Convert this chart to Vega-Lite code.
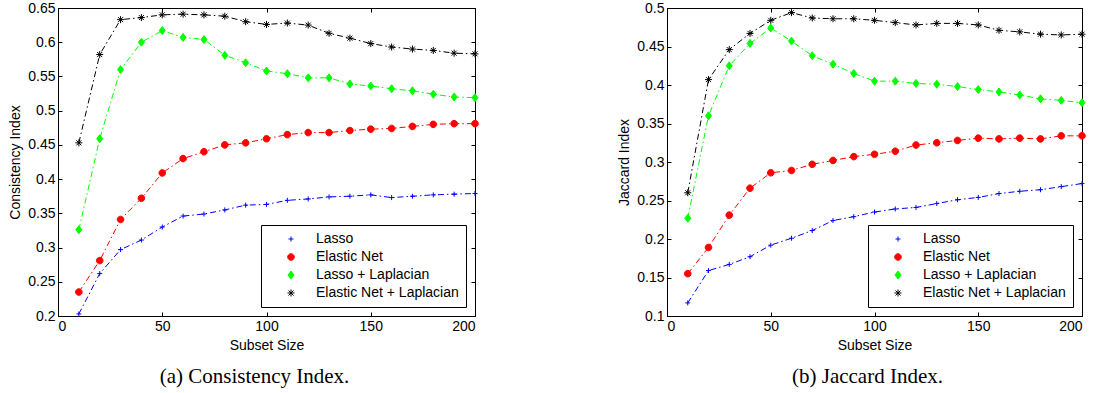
{
  "$schema": "https://vega.github.io/schema/vega-lite/v6.json",
  "background": "white",
  "padding": {"left": 8, "top": 0, "right": 5, "bottom": 5},
  "config": {
    "font": "Liberation Sans",
    "view": {"stroke": "black", "strokeWidth": 1},
    "axis": {"domainColor": "black", "tickColor": "black", "labelColor": "black", "titleColor": "black", "labelFont": "Liberation Sans", "labelFontSize": 14, "titleFont": "Liberation Sans", "titleFontSize": 14, "titleFontWeight": "normal", "grid": false, "tickSize": -4, "labelPadding": 7, "domainWidth": 1, "tickWidth": 1, "titlePadding": 5},
    "legend": {"orient": "bottom-right", "offset": 9, "padding": 7, "strokeColor": "black", "strokeWidth": 1, "fillColor": "white", "labelFont": "Liberation Sans", "labelFontSize": 14, "labelColor": "black", "rowPadding": 4, "symbolSize": 100, "symbolOffset": 16, "labelOffset": 18, "symbolStrokeWidth": 1, "cornerRadius": 0, "title": null},
    "title": {"font": "Liberation Serif", "fontSize": 21, "fontWeight": "normal", "color": "black"}
  },
  "datasets": {
    "consistency": [
      {"size": 10, "series": "Lasso", "value": 0.203}, {"size": 20, "series": "Lasso", "value": 0.262}, {"size": 30, "series": "Lasso", "value": 0.297}, {"size": 40, "series": "Lasso", "value": 0.311}, {"size": 50, "series": "Lasso", "value": 0.330}, {"size": 60, "series": "Lasso", "value": 0.346}, {"size": 70, "series": "Lasso", "value": 0.349}, {"size": 80, "series": "Lasso", "value": 0.355}, {"size": 90, "series": "Lasso", "value": 0.362}, {"size": 100, "series": "Lasso", "value": 0.363}, {"size": 110, "series": "Lasso", "value": 0.369}, {"size": 120, "series": "Lasso", "value": 0.371}, {"size": 130, "series": "Lasso", "value": 0.374}, {"size": 140, "series": "Lasso", "value": 0.375}, {"size": 150, "series": "Lasso", "value": 0.377}, {"size": 160, "series": "Lasso", "value": 0.373}, {"size": 170, "series": "Lasso", "value": 0.375}, {"size": 180, "series": "Lasso", "value": 0.377}, {"size": 190, "series": "Lasso", "value": 0.378}, {"size": 200, "series": "Lasso", "value": 0.379},
      {"size": 10, "series": "Elastic Net", "value": 0.235}, {"size": 20, "series": "Elastic Net", "value": 0.281}, {"size": 30, "series": "Elastic Net", "value": 0.341}, {"size": 40, "series": "Elastic Net", "value": 0.372}, {"size": 50, "series": "Elastic Net", "value": 0.409}, {"size": 60, "series": "Elastic Net", "value": 0.430}, {"size": 70, "series": "Elastic Net", "value": 0.440}, {"size": 80, "series": "Elastic Net", "value": 0.450}, {"size": 90, "series": "Elastic Net", "value": 0.453}, {"size": 100, "series": "Elastic Net", "value": 0.459}, {"size": 110, "series": "Elastic Net", "value": 0.465}, {"size": 120, "series": "Elastic Net", "value": 0.468}, {"size": 130, "series": "Elastic Net", "value": 0.468}, {"size": 140, "series": "Elastic Net", "value": 0.471}, {"size": 150, "series": "Elastic Net", "value": 0.473}, {"size": 160, "series": "Elastic Net", "value": 0.474}, {"size": 170, "series": "Elastic Net", "value": 0.477}, {"size": 180, "series": "Elastic Net", "value": 0.480}, {"size": 190, "series": "Elastic Net", "value": 0.481}, {"size": 200, "series": "Elastic Net", "value": 0.481},
      {"size": 10, "series": "Lasso + Laplacian", "value": 0.326}, {"size": 20, "series": "Lasso + Laplacian", "value": 0.459}, {"size": 30, "series": "Lasso + Laplacian", "value": 0.560}, {"size": 40, "series": "Lasso + Laplacian", "value": 0.600}, {"size": 50, "series": "Lasso + Laplacian", "value": 0.617}, {"size": 60, "series": "Lasso + Laplacian", "value": 0.607}, {"size": 70, "series": "Lasso + Laplacian", "value": 0.604}, {"size": 80, "series": "Lasso + Laplacian", "value": 0.581}, {"size": 90, "series": "Lasso + Laplacian", "value": 0.570}, {"size": 100, "series": "Lasso + Laplacian", "value": 0.558}, {"size": 110, "series": "Lasso + Laplacian", "value": 0.554}, {"size": 120, "series": "Lasso + Laplacian", "value": 0.548}, {"size": 130, "series": "Lasso + Laplacian", "value": 0.548}, {"size": 140, "series": "Lasso + Laplacian", "value": 0.539}, {"size": 150, "series": "Lasso + Laplacian", "value": 0.536}, {"size": 160, "series": "Lasso + Laplacian", "value": 0.532}, {"size": 170, "series": "Lasso + Laplacian", "value": 0.529}, {"size": 180, "series": "Lasso + Laplacian", "value": 0.524}, {"size": 190, "series": "Lasso + Laplacian", "value": 0.520}, {"size": 200, "series": "Lasso + Laplacian", "value": 0.519},
      {"size": 10, "series": "Elastic Net + Laplacian", "value": 0.453}, {"size": 20, "series": "Elastic Net + Laplacian", "value": 0.582}, {"size": 30, "series": "Elastic Net + Laplacian", "value": 0.633}, {"size": 40, "series": "Elastic Net + Laplacian", "value": 0.636}, {"size": 50, "series": "Elastic Net + Laplacian", "value": 0.640}, {"size": 60, "series": "Elastic Net + Laplacian", "value": 0.641}, {"size": 70, "series": "Elastic Net + Laplacian", "value": 0.640}, {"size": 80, "series": "Elastic Net + Laplacian", "value": 0.638}, {"size": 90, "series": "Elastic Net + Laplacian", "value": 0.630}, {"size": 100, "series": "Elastic Net + Laplacian", "value": 0.626}, {"size": 110, "series": "Elastic Net + Laplacian", "value": 0.628}, {"size": 120, "series": "Elastic Net + Laplacian", "value": 0.625}, {"size": 130, "series": "Elastic Net + Laplacian", "value": 0.613}, {"size": 140, "series": "Elastic Net + Laplacian", "value": 0.606}, {"size": 150, "series": "Elastic Net + Laplacian", "value": 0.598}, {"size": 160, "series": "Elastic Net + Laplacian", "value": 0.593}, {"size": 170, "series": "Elastic Net + Laplacian", "value": 0.590}, {"size": 180, "series": "Elastic Net + Laplacian", "value": 0.588}, {"size": 190, "series": "Elastic Net + Laplacian", "value": 0.584}, {"size": 200, "series": "Elastic Net + Laplacian", "value": 0.583}
    ],
    "jaccard": [
      {"size": 10, "series": "Lasso", "value": 0.117}, {"size": 20, "series": "Lasso", "value": 0.159}, {"size": 30, "series": "Lasso", "value": 0.167}, {"size": 40, "series": "Lasso", "value": 0.177}, {"size": 50, "series": "Lasso", "value": 0.192}, {"size": 60, "series": "Lasso", "value": 0.201}, {"size": 70, "series": "Lasso", "value": 0.211}, {"size": 80, "series": "Lasso", "value": 0.224}, {"size": 90, "series": "Lasso", "value": 0.229}, {"size": 100, "series": "Lasso", "value": 0.235}, {"size": 110, "series": "Lasso", "value": 0.239}, {"size": 120, "series": "Lasso", "value": 0.241}, {"size": 130, "series": "Lasso", "value": 0.246}, {"size": 140, "series": "Lasso", "value": 0.251}, {"size": 150, "series": "Lasso", "value": 0.254}, {"size": 160, "series": "Lasso", "value": 0.259}, {"size": 170, "series": "Lasso", "value": 0.262}, {"size": 180, "series": "Lasso", "value": 0.264}, {"size": 190, "series": "Lasso", "value": 0.268}, {"size": 200, "series": "Lasso", "value": 0.272},
      {"size": 10, "series": "Elastic Net", "value": 0.155}, {"size": 20, "series": "Elastic Net", "value": 0.189}, {"size": 30, "series": "Elastic Net", "value": 0.231}, {"size": 40, "series": "Elastic Net", "value": 0.266}, {"size": 50, "series": "Elastic Net", "value": 0.286}, {"size": 60, "series": "Elastic Net", "value": 0.289}, {"size": 70, "series": "Elastic Net", "value": 0.297}, {"size": 80, "series": "Elastic Net", "value": 0.302}, {"size": 90, "series": "Elastic Net", "value": 0.307}, {"size": 100, "series": "Elastic Net", "value": 0.310}, {"size": 110, "series": "Elastic Net", "value": 0.314}, {"size": 120, "series": "Elastic Net", "value": 0.322}, {"size": 130, "series": "Elastic Net", "value": 0.325}, {"size": 140, "series": "Elastic Net", "value": 0.328}, {"size": 150, "series": "Elastic Net", "value": 0.331}, {"size": 160, "series": "Elastic Net", "value": 0.330}, {"size": 170, "series": "Elastic Net", "value": 0.331}, {"size": 180, "series": "Elastic Net", "value": 0.330}, {"size": 190, "series": "Elastic Net", "value": 0.334}, {"size": 200, "series": "Elastic Net", "value": 0.334},
      {"size": 10, "series": "Lasso + Laplacian", "value": 0.227}, {"size": 20, "series": "Lasso + Laplacian", "value": 0.360}, {"size": 30, "series": "Lasso + Laplacian", "value": 0.425}, {"size": 40, "series": "Lasso + Laplacian", "value": 0.454}, {"size": 50, "series": "Lasso + Laplacian", "value": 0.474}, {"size": 60, "series": "Lasso + Laplacian", "value": 0.457}, {"size": 70, "series": "Lasso + Laplacian", "value": 0.438}, {"size": 80, "series": "Lasso + Laplacian", "value": 0.427}, {"size": 90, "series": "Lasso + Laplacian", "value": 0.415}, {"size": 100, "series": "Lasso + Laplacian", "value": 0.405}, {"size": 110, "series": "Lasso + Laplacian", "value": 0.405}, {"size": 120, "series": "Lasso + Laplacian", "value": 0.402}, {"size": 130, "series": "Lasso + Laplacian", "value": 0.401}, {"size": 140, "series": "Lasso + Laplacian", "value": 0.398}, {"size": 150, "series": "Lasso + Laplacian", "value": 0.394}, {"size": 160, "series": "Lasso + Laplacian", "value": 0.391}, {"size": 170, "series": "Lasso + Laplacian", "value": 0.387}, {"size": 180, "series": "Lasso + Laplacian", "value": 0.382}, {"size": 190, "series": "Lasso + Laplacian", "value": 0.380}, {"size": 200, "series": "Lasso + Laplacian", "value": 0.377},
      {"size": 10, "series": "Elastic Net + Laplacian", "value": 0.260}, {"size": 20, "series": "Elastic Net + Laplacian", "value": 0.407}, {"size": 30, "series": "Elastic Net + Laplacian", "value": 0.446}, {"size": 40, "series": "Elastic Net + Laplacian", "value": 0.467}, {"size": 50, "series": "Elastic Net + Laplacian", "value": 0.484}, {"size": 60, "series": "Elastic Net + Laplacian", "value": 0.494}, {"size": 70, "series": "Elastic Net + Laplacian", "value": 0.487}, {"size": 80, "series": "Elastic Net + Laplacian", "value": 0.486}, {"size": 90, "series": "Elastic Net + Laplacian", "value": 0.486}, {"size": 100, "series": "Elastic Net + Laplacian", "value": 0.484}, {"size": 110, "series": "Elastic Net + Laplacian", "value": 0.481}, {"size": 120, "series": "Elastic Net + Laplacian", "value": 0.478}, {"size": 130, "series": "Elastic Net + Laplacian", "value": 0.480}, {"size": 140, "series": "Elastic Net + Laplacian", "value": 0.480}, {"size": 150, "series": "Elastic Net + Laplacian", "value": 0.478}, {"size": 160, "series": "Elastic Net + Laplacian", "value": 0.471}, {"size": 170, "series": "Elastic Net + Laplacian", "value": 0.469}, {"size": 180, "series": "Elastic Net + Laplacian", "value": 0.466}, {"size": 190, "series": "Elastic Net + Laplacian", "value": 0.465}, {"size": 200, "series": "Elastic Net + Laplacian", "value": 0.466}
    ]
  },
  "spacing": 192,
  "bounds": "flush",
  "resolve": {"scale": {"color": "independent", "stroke": "independent", "shape": "independent"}, "legend": {"color": "independent", "stroke": "independent", "shape": "independent"}},
  "hconcat": [
    {
      "width": 417,
      "height": 308,
      "data": {"name": "consistency"},
      "title": {"text": "(a) Consistency Index.", "orient": "bottom", "anchor": "middle", "dx": -12, "offset": 14},
      "resolve": {"axis": {"x": "independent", "y": "independent"}},
      "layer": [
        {
          "transform": [{"filter": "datum.series === 'Lasso'"}],
          "mark": {"type": "line", "color": "#0000ff", "strokeDash": [6, 3, 1.5, 3], "strokeWidth": 1},
          "encoding": {
            "x": {"field": "size", "type": "quantitative", "scale": {"domain": [0, 200], "nice": false}, "axis": {"orient": "bottom", "values": [0, 50, 100, 150, 200], "title": "Subset Size"}},
            "y": {"field": "value", "type": "quantitative", "scale": {"domain": [0.2, 0.65], "nice": false, "zero": false}, "axis": {"orient": "left", "values": [0.2, 0.25, 0.3, 0.35, 0.4, 0.45, 0.5, 0.55, 0.6, 0.65], "format": ".2~f", "title": "Consistency Index"}}
          }
        },
        {
          "transform": [{"filter": "datum.series === 'Elastic Net'"}],
          "mark": {"type": "line", "color": "#ff0000", "strokeDash": [6, 3, 1.5, 3], "strokeWidth": 1},
          "encoding": {"x": {"field": "size", "type": "quantitative", "axis": null}, "y": {"field": "value", "type": "quantitative", "axis": null}}
        },
        {
          "transform": [{"filter": "datum.series === 'Lasso + Laplacian'"}],
          "mark": {"type": "line", "color": "#00ff00", "strokeDash": [6, 3, 1.5, 3], "strokeWidth": 1},
          "encoding": {"x": {"field": "size", "type": "quantitative", "axis": null}, "y": {"field": "value", "type": "quantitative", "axis": null}}
        },
        {
          "transform": [{"filter": "datum.series === 'Elastic Net + Laplacian'"}],
          "mark": {"type": "line", "color": "#000000", "strokeDash": [6, 3, 1.5, 3], "strokeWidth": 1},
          "encoding": {"x": {"field": "size", "type": "quantitative", "axis": null}, "y": {"field": "value", "type": "quantitative", "axis": null}}
        },
        {
          "mark": {"type": "point", "filled": true, "opacity": 1, "strokeWidth": 1, "size": 100},
          "encoding": {
            "x": {"field": "size", "type": "quantitative", "axis": {"orient": "top", "values": [0, 50, 100, 150, 200], "labels": false, "title": null}},
            "y": {"field": "value", "type": "quantitative", "axis": {"orient": "right", "values": [0.2, 0.25, 0.3, 0.35, 0.4, 0.45, 0.5, 0.55, 0.6, 0.65], "labels": false, "title": null}},
            "color": {"field": "series", "type": "nominal", "scale": {"domain": ["Lasso", "Elastic Net", "Lasso + Laplacian", "Elastic Net + Laplacian"], "range": ["#0000ff", "#ff0000", "#00ff00", "#000000"]},
              "legend": {"title": null, "encode": {"symbols": {
                "shape": {"value": {"expr": "datum.value === 'Lasso' ? 'M-4,0H4M0,-0.5V0.5' : datum.value === 'Elastic Net' ? 'M-4,0H4M0.66,0A0.66,0.66,0,1,1,-0.66,0A0.66,0.66,0,1,1,0.66,0Z' : datum.value === 'Lasso + Laplacian' ? 'M-4,0H4M0,-0.8L0.6,0L0,0.8L-0.6,0Z' : 'M-4,0H4M0,-0.7V0.7M-0.5,-0.5L0.5,0.5M-0.5,0.5L0.5,-0.5'"}},
                "stroke": {"value": {"expr": "datum.value === 'Lasso' ? '#0000ff' : datum.value === 'Elastic Net' ? '#ff0000' : datum.value === 'Lasso + Laplacian' ? '#00ff00' : '#000000'"}},
                "fill": {"value": {"expr": "datum.value === 'Lasso' ? '#0000ff' : datum.value === 'Elastic Net' ? '#ff0000' : datum.value === 'Lasso + Laplacian' ? '#00ff00' : '#000000'"}},
                "strokeDash": {"value": [1.5, 3, 7, 3]},
                "strokeWidth": {"value": 1},
                "opacity": {"value": 1}
              }}}},
            "stroke": {"field": "series", "type": "nominal", "scale": {"domain": ["Lasso", "Elastic Net", "Lasso + Laplacian", "Elastic Net + Laplacian"], "range": ["#0000ff", "#ff0000", "#00ff00", "#000000"]},
              "legend": {"title": null, "encode": {"symbols": {
                "shape": {"value": {"expr": "datum.value === 'Lasso' ? 'M-4,0H4M0,-0.5V0.5' : datum.value === 'Elastic Net' ? 'M-4,0H4M0.66,0A0.66,0.66,0,1,1,-0.66,0A0.66,0.66,0,1,1,0.66,0Z' : datum.value === 'Lasso + Laplacian' ? 'M-4,0H4M0,-0.8L0.6,0L0,0.8L-0.6,0Z' : 'M-4,0H4M0,-0.7V0.7M-0.5,-0.5L0.5,0.5M-0.5,0.5L0.5,-0.5'"}},
                "stroke": {"value": {"expr": "datum.value === 'Lasso' ? '#0000ff' : datum.value === 'Elastic Net' ? '#ff0000' : datum.value === 'Lasso + Laplacian' ? '#00ff00' : '#000000'"}},
                "fill": {"value": {"expr": "datum.value === 'Lasso' ? '#0000ff' : datum.value === 'Elastic Net' ? '#ff0000' : datum.value === 'Lasso + Laplacian' ? '#00ff00' : '#000000'"}},
                "strokeDash": {"value": [1.5, 3, 7, 3]},
                "strokeWidth": {"value": 1},
                "opacity": {"value": 1}
              }}}},
            "shape": {"field": "series", "type": "nominal", "scale": {"domain": ["Lasso", "Elastic Net", "Lasso + Laplacian", "Elastic Net + Laplacian"], "range": ["M-0.5,0H0.5M0,-0.5V0.5", "M0.66,0A0.66,0.66,0,1,1,-0.66,0A0.66,0.66,0,1,1,0.66,0Z", "M0,-0.8L0.6,0L0,0.8L-0.6,0Z", "M-0.7,0H0.7M0,-0.7V0.7M-0.5,-0.5L0.5,0.5M-0.5,0.5L0.5,-0.5"]},
              "legend": {"title": null, "encode": {"symbols": {
                "shape": {"value": {"expr": "datum.value === 'Lasso' ? 'M-4,0H4M0,-0.5V0.5' : datum.value === 'Elastic Net' ? 'M-4,0H4M0.66,0A0.66,0.66,0,1,1,-0.66,0A0.66,0.66,0,1,1,0.66,0Z' : datum.value === 'Lasso + Laplacian' ? 'M-4,0H4M0,-0.8L0.6,0L0,0.8L-0.6,0Z' : 'M-4,0H4M0,-0.7V0.7M-0.5,-0.5L0.5,0.5M-0.5,0.5L0.5,-0.5'"}},
                "stroke": {"value": {"expr": "datum.value === 'Lasso' ? '#0000ff' : datum.value === 'Elastic Net' ? '#ff0000' : datum.value === 'Lasso + Laplacian' ? '#00ff00' : '#000000'"}},
                "fill": {"value": {"expr": "datum.value === 'Lasso' ? '#0000ff' : datum.value === 'Elastic Net' ? '#ff0000' : datum.value === 'Lasso + Laplacian' ? '#00ff00' : '#000000'"}},
                "strokeDash": {"value": [1.5, 3, 7, 3]},
                "strokeWidth": {"value": 1},
                "opacity": {"value": 1}
              }}}}
          }
        }
      ]
    },
    {
      "width": 415,
      "height": 308,
      "data": {"name": "jaccard"},
      "title": {"text": "(b) Jaccard Index.", "orient": "bottom", "anchor": "middle", "dx": -7, "offset": 14},
      "resolve": {"axis": {"x": "independent", "y": "independent"}},
      "layer": [
        {
          "transform": [{"filter": "datum.series === 'Lasso'"}],
          "mark": {"type": "line", "color": "#0000ff", "strokeDash": [6, 3, 1.5, 3], "strokeWidth": 1},
          "encoding": {
            "x": {"field": "size", "type": "quantitative", "scale": {"domain": [0, 200], "nice": false}, "axis": {"orient": "bottom", "values": [0, 50, 100, 150, 200], "title": "Subset Size"}},
            "y": {"field": "value", "type": "quantitative", "scale": {"domain": [0.1, 0.5], "nice": false, "zero": false}, "axis": {"orient": "left", "values": [0.1, 0.15, 0.2, 0.25, 0.3, 0.35, 0.4, 0.45, 0.5], "format": ".2~f", "title": "Jaccard Index"}}
          }
        },
        {
          "transform": [{"filter": "datum.series === 'Elastic Net'"}],
          "mark": {"type": "line", "color": "#ff0000", "strokeDash": [6, 3, 1.5, 3], "strokeWidth": 1},
          "encoding": {"x": {"field": "size", "type": "quantitative", "axis": null}, "y": {"field": "value", "type": "quantitative", "axis": null}}
        },
        {
          "transform": [{"filter": "datum.series === 'Lasso + Laplacian'"}],
          "mark": {"type": "line", "color": "#00ff00", "strokeDash": [6, 3, 1.5, 3], "strokeWidth": 1},
          "encoding": {"x": {"field": "size", "type": "quantitative", "axis": null}, "y": {"field": "value", "type": "quantitative", "axis": null}}
        },
        {
          "transform": [{"filter": "datum.series === 'Elastic Net + Laplacian'"}],
          "mark": {"type": "line", "color": "#000000", "strokeDash": [6, 3, 1.5, 3], "strokeWidth": 1},
          "encoding": {"x": {"field": "size", "type": "quantitative", "axis": null}, "y": {"field": "value", "type": "quantitative", "axis": null}}
        },
        {
          "mark": {"type": "point", "filled": true, "opacity": 1, "strokeWidth": 1, "size": 100},
          "encoding": {
            "x": {"field": "size", "type": "quantitative", "axis": {"orient": "top", "values": [0, 50, 100, 150, 200], "labels": false, "title": null}},
            "y": {"field": "value", "type": "quantitative", "axis": {"orient": "right", "values": [0.1, 0.15, 0.2, 0.25, 0.3, 0.35, 0.4, 0.45, 0.5], "labels": false, "title": null}},
            "color": {"field": "series", "type": "nominal", "scale": {"domain": ["Lasso", "Elastic Net", "Lasso + Laplacian", "Elastic Net + Laplacian"], "range": ["#0000ff", "#ff0000", "#00ff00", "#000000"]},
              "legend": {"title": null, "encode": {"symbols": {
                "shape": {"value": {"expr": "datum.value === 'Lasso' ? 'M-4,0H4M0,-0.5V0.5' : datum.value === 'Elastic Net' ? 'M-4,0H4M0.66,0A0.66,0.66,0,1,1,-0.66,0A0.66,0.66,0,1,1,0.66,0Z' : datum.value === 'Lasso + Laplacian' ? 'M-4,0H4M0,-0.8L0.6,0L0,0.8L-0.6,0Z' : 'M-4,0H4M0,-0.7V0.7M-0.5,-0.5L0.5,0.5M-0.5,0.5L0.5,-0.5'"}},
                "stroke": {"value": {"expr": "datum.value === 'Lasso' ? '#0000ff' : datum.value === 'Elastic Net' ? '#ff0000' : datum.value === 'Lasso + Laplacian' ? '#00ff00' : '#000000'"}},
                "fill": {"value": {"expr": "datum.value === 'Lasso' ? '#0000ff' : datum.value === 'Elastic Net' ? '#ff0000' : datum.value === 'Lasso + Laplacian' ? '#00ff00' : '#000000'"}},
                "strokeDash": {"value": [1.5, 3, 7, 3]},
                "strokeWidth": {"value": 1},
                "opacity": {"value": 1}
              }}}},
            "stroke": {"field": "series", "type": "nominal", "scale": {"domain": ["Lasso", "Elastic Net", "Lasso + Laplacian", "Elastic Net + Laplacian"], "range": ["#0000ff", "#ff0000", "#00ff00", "#000000"]},
              "legend": {"title": null, "encode": {"symbols": {
                "shape": {"value": {"expr": "datum.value === 'Lasso' ? 'M-4,0H4M0,-0.5V0.5' : datum.value === 'Elastic Net' ? 'M-4,0H4M0.66,0A0.66,0.66,0,1,1,-0.66,0A0.66,0.66,0,1,1,0.66,0Z' : datum.value === 'Lasso + Laplacian' ? 'M-4,0H4M0,-0.8L0.6,0L0,0.8L-0.6,0Z' : 'M-4,0H4M0,-0.7V0.7M-0.5,-0.5L0.5,0.5M-0.5,0.5L0.5,-0.5'"}},
                "stroke": {"value": {"expr": "datum.value === 'Lasso' ? '#0000ff' : datum.value === 'Elastic Net' ? '#ff0000' : datum.value === 'Lasso + Laplacian' ? '#00ff00' : '#000000'"}},
                "fill": {"value": {"expr": "datum.value === 'Lasso' ? '#0000ff' : datum.value === 'Elastic Net' ? '#ff0000' : datum.value === 'Lasso + Laplacian' ? '#00ff00' : '#000000'"}},
                "strokeDash": {"value": [1.5, 3, 7, 3]},
                "strokeWidth": {"value": 1},
                "opacity": {"value": 1}
              }}}},
            "shape": {"field": "series", "type": "nominal", "scale": {"domain": ["Lasso", "Elastic Net", "Lasso + Laplacian", "Elastic Net + Laplacian"], "range": ["M-0.5,0H0.5M0,-0.5V0.5", "M0.66,0A0.66,0.66,0,1,1,-0.66,0A0.66,0.66,0,1,1,0.66,0Z", "M0,-0.8L0.6,0L0,0.8L-0.6,0Z", "M-0.7,0H0.7M0,-0.7V0.7M-0.5,-0.5L0.5,0.5M-0.5,0.5L0.5,-0.5"]},
              "legend": {"title": null, "encode": {"symbols": {
                "shape": {"value": {"expr": "datum.value === 'Lasso' ? 'M-4,0H4M0,-0.5V0.5' : datum.value === 'Elastic Net' ? 'M-4,0H4M0.66,0A0.66,0.66,0,1,1,-0.66,0A0.66,0.66,0,1,1,0.66,0Z' : datum.value === 'Lasso + Laplacian' ? 'M-4,0H4M0,-0.8L0.6,0L0,0.8L-0.6,0Z' : 'M-4,0H4M0,-0.7V0.7M-0.5,-0.5L0.5,0.5M-0.5,0.5L0.5,-0.5'"}},
                "stroke": {"value": {"expr": "datum.value === 'Lasso' ? '#0000ff' : datum.value === 'Elastic Net' ? '#ff0000' : datum.value === 'Lasso + Laplacian' ? '#00ff00' : '#000000'"}},
                "fill": {"value": {"expr": "datum.value === 'Lasso' ? '#0000ff' : datum.value === 'Elastic Net' ? '#ff0000' : datum.value === 'Lasso + Laplacian' ? '#00ff00' : '#000000'"}},
                "strokeDash": {"value": [1.5, 3, 7, 3]},
                "strokeWidth": {"value": 1},
                "opacity": {"value": 1}
              }}}}
          }
        }
      ]
    }
  ]
}
